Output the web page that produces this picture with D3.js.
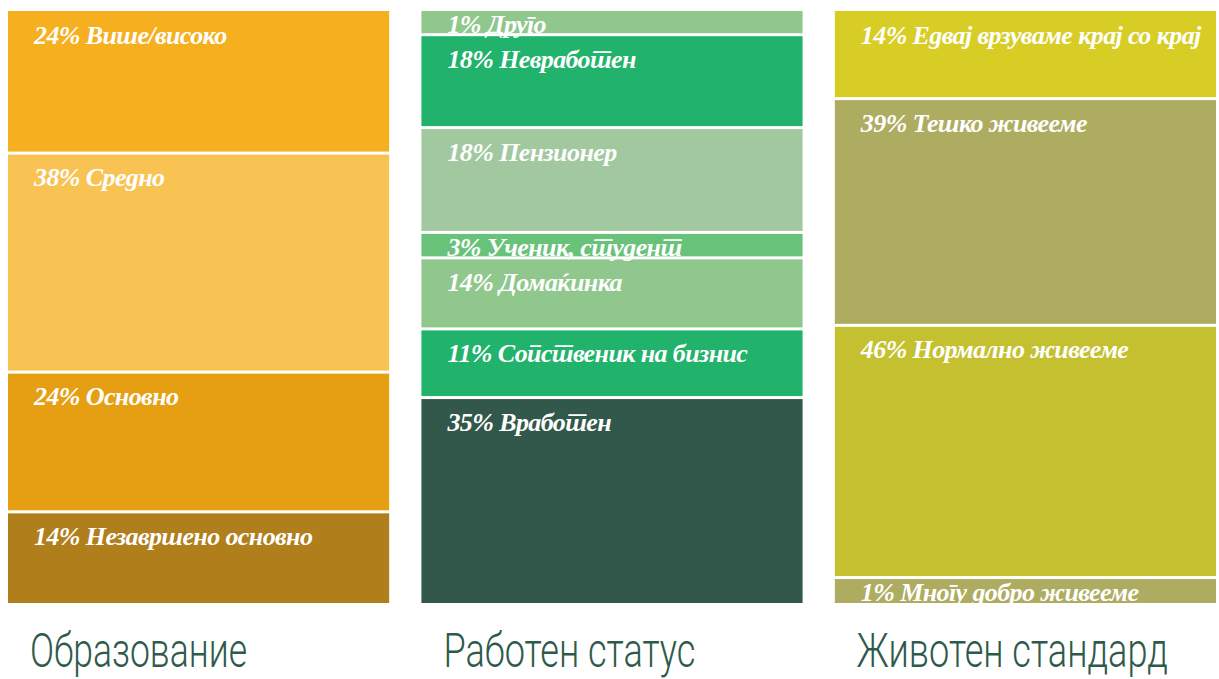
<!DOCTYPE html>
<html lang="mk">
<head>
<meta charset="utf-8">
<script src="https://cdn.jsdelivr.net/npm/d3@7"></script>
<style>
  body { margin: 0; background: #fff; }
  .seg-label { font-family: "Liberation Serif", "DejaVu Serif", serif; font-style: italic; font-weight: bold; fill: #fff; letter-spacing: -0.6px; }
  .col-title { font-family: Roboto, "Open Sans", sans-serif; font-weight: 300; fill: #2e5a4b; }
</style>
</head>
<body>
<svg id="chart" width="1219" height="679"></svg>
<script>
// column titles
var columns = ["Образование", "Работен статус", "Животен стандард"];

// Образование
var eduNames = ["Више/високо", "Средно", "Основно", "Незавршено основно"];
var eduPct = [24, 38, 24, 14];
var eduValues = [24, 37, 23.6, 15.4]; // bar heights as drawn
var eduColors = ["#f6af1f", "#f9c353", "#e69f13", "#b07e1b"];

// Работен статус
var workNames = ["Друго", "Невработен", "Пензионер", "Ученик, студент", "Домаќинка", "Сопственик на бизнис", "Вработен"];
var workPct = [1, 18, 18, 3, 14, 11, 35];
var workValues = [4, 15.7, 17.7, 4.3, 12, 11.6, 34.7];
var workColors = ["#90c78d", "#21b26b", "#a2c8a0", "#69c27a", "#90c78d", "#21b26b", "#32584b"];

// Животен стандард
var lifeNames = ["Едвај врзуваме крај со крај", "Тешко живееме", "Нормално живееме", "Многу добро живееме"];
var lifePct = [14, 39, 46, 1];
var lifeValues = [14.8, 38.3, 42.6, 4.3];
var lifeColors = ["#d7cd25", "#aeac60", "#c4c02f", "#aeac60"];

var groups = [
    { title: columns[0], names: eduNames, pct: eduPct, values: eduValues, colors: eduColors, titleWidth: 217 },
    { title: columns[1], names: workNames, pct: workPct, values: workValues, colors: workColors, titleWidth: 252 },
    { title: columns[2], names: lifeNames, pct: lifePct, values: lifeValues, colors: lifeColors, titleWidth: 311 }
];

var chartTop = 11, chartBottom = 603,
    gap = 3;

var svg = d3.select("#chart");

var x = d3.scaleBand()
    .domain(columns)
    .range([8, 1216])
    .paddingInner(0.078)
    .paddingOuter(0);

var y = d3.scaleLinear()
    .domain([0, 100])
    .range([chartTop, chartBottom]);

groups.forEach(function(g) {
    // stack segments top to bottom
    var acc = 0;
    var segs = g.values.map(function(v, i) {
        var s = { y0: acc, y1: acc + v, name: g.names[i], pct: g.pct[i], color: g.colors[i] };
        acc += v;
        return s;
    });

    var col = svg.append("g")
        .attr("class", "column")
        .attr("transform", "translate(" + x(g.title) + ",0)");

    col.selectAll("rect")
        .data(segs)
        .enter()
        .append("rect")
        .attr("x", 0)
        .attr("width", x.bandwidth())
        .attr("y", function(d) { return y(d.y0) + (d.y0 > 0 ? gap / 2 : 0); })
        .attr("height", function(d) {
            var h = y(d.y1) - y(d.y0);
            return h - (d.y0 > 0 ? gap / 2 : 0) - (d.y1 < 99.99 ? gap / 2 : 0);
        })
        .attr("fill", function(d) { return d.color; });

    col.selectAll("text.seg-label")
        .data(segs)
        .enter()
        .append("text")
        .attr("class", "seg-label")
        .attr("x", 26)
        .attr("y", function(d) {
            var h = y(d.y1) - y(d.y0);
            return y(d.y0) + Math.min(33, h - 2);
        })
        .style("font-size", "26px")
        .text(function(d) { return d.pct + "% " + d.name; });

    // condensed look: squeeze the light sans title into the reference width
    col.append("text")
        .attr("class", "col-title")
        .attr("x", 22)
        .attr("y", 667)
        .attr("textLength", g.titleWidth)
        .attr("lengthAdjust", "spacingAndGlyphs")
        .style("font-size", "48px")
        .text(g.title);
});
</script>
</body>
</html>
